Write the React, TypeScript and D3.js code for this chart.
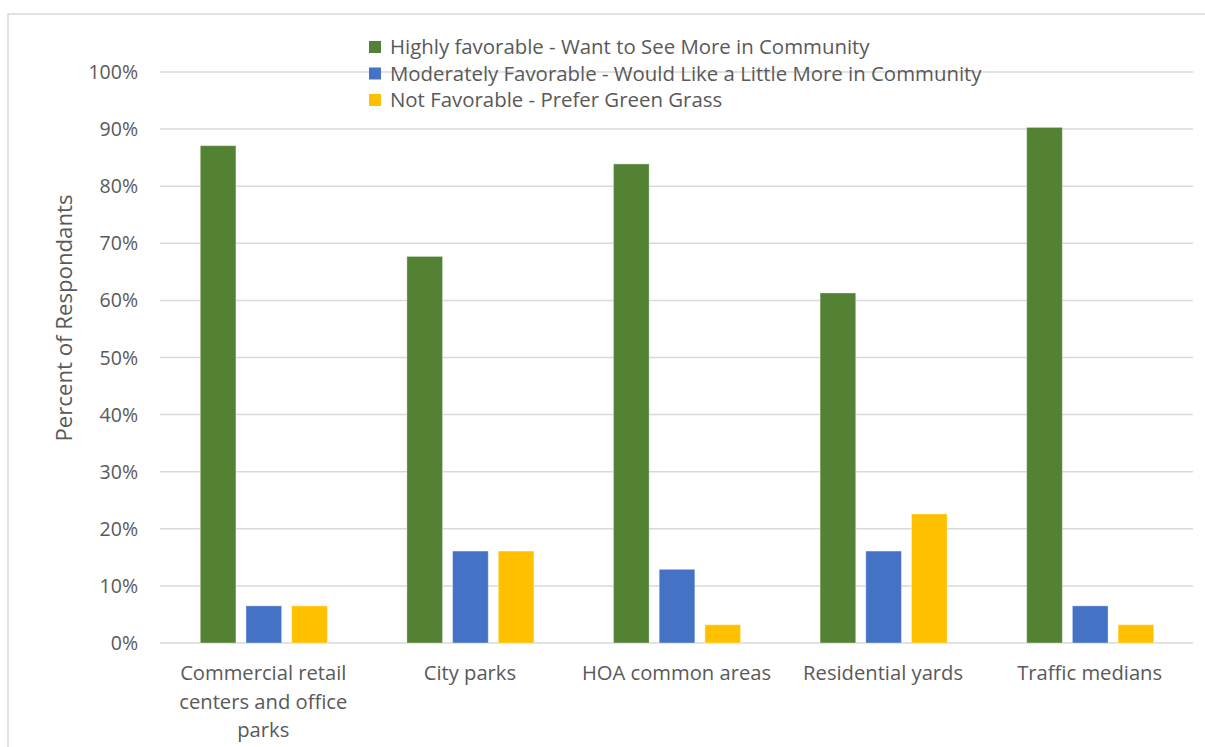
import React from "react";
import * as d3 from "d3";

const categories: string[][] = [
  ["Commercial retail", "centers and office", "parks"],
  ["City parks"],
  ["HOA common areas"],
  ["Residential yards"],
  ["Traffic medians"],
];
const seriesNames = [
  "Highly favorable - Want to See More in Community",
  "Moderately Favorable - Would Like a Little More in Community",
  "Not Favorable - Prefer Green Grass",
];
const highly = [87.1, 67.7, 83.9, 61.3, 90.3];
const moderately = [6.5, 16.1, 12.9, 16.1, 6.5];
const notFav = [6.5, 16.1, 3.2, 22.6, 3.2];
const colors = ["#548235", "#4472C4", "#FFC000"];
const yTicks = [0, 10, 20, 30, 40, 50, 60, 70, 80, 90, 100];

const W = 1205;
const H = 747;
const FONT = "'Open Sans', sans-serif";
const TEXT = "#595959";

export default function App() {
  const series = [highly, moderately, notFav];
  const x0 = d3.scaleBand<number>().domain(d3.range(categories.length)).range([160, 1193]).padding(0);
  const bw = x0.bandwidth();
  const x1 = d3.scaleBand<number>().domain([0, 1, 2]).range([bw * 0.195, bw * 0.81]).paddingInner(0.22).paddingOuter(0);
  const y = d3.scaleLinear().domain([0, 100]).range([643, 72]);

  return (
    <svg width={W} height={H} style={{ position: "absolute", left: 0, top: 0, background: "#fff" }} fontFamily={FONT}>
      <rect x={8} y={14} width={W + 10} height={H + 10} fill="#fff" stroke="#d9d9d9" strokeWidth={1.5} />
      {yTicks.map((t) => (
        <g key={t}>
          <line x1={160} x2={1193} y1={y(t)} y2={y(t)} stroke="#d9d9d9" strokeWidth={1.5} />
          <text x={138} y={y(t)} dy="0.36em" textAnchor="end" fontSize={19.5} fill={TEXT}>
            {t}%
          </text>
        </g>
      ))}
      {series.map((vals, si) =>
        vals.map((v, ci) => (
          <rect
            key={`${si}-${ci}`}
            x={(x0(ci) ?? 0) + (x1(si) ?? 0)}
            y={y(v)}
            width={x1.bandwidth()}
            height={y(0) - y(v)}
            fill={colors[si]}
            stroke="#ffffff"
            strokeOpacity={0.35}
            strokeWidth={1}
          />
        ))
      )}
      {categories.map((lines, ci) => (
        <text key={ci} textAnchor="middle" fontSize={20.2} fill={TEXT}>
          {lines.map((l, li) => (
            <tspan key={li} x={(x0(ci) ?? 0) + bw / 2} y={680 + li * 28.5}>
              {l}
            </tspan>
          ))}
        </text>
      ))}
      <text transform={`translate(72,318) rotate(-90)`} textAnchor="middle" fontSize={22.2} fill={TEXT}>
        Percent of Respondants
      </text>
      {seriesNames.map((n, i) => (
        <g key={n} transform={`translate(369,${47 + i * 26.5})`}>
          <rect x={0} y={-6} width={12} height={12} fill={colors[i]} />
          <text x={21} y={0} dy="0.36em" fontSize={20.4} fill={TEXT}>
            {n}
          </text>
        </g>
      ))}
    </svg>
  );
}
